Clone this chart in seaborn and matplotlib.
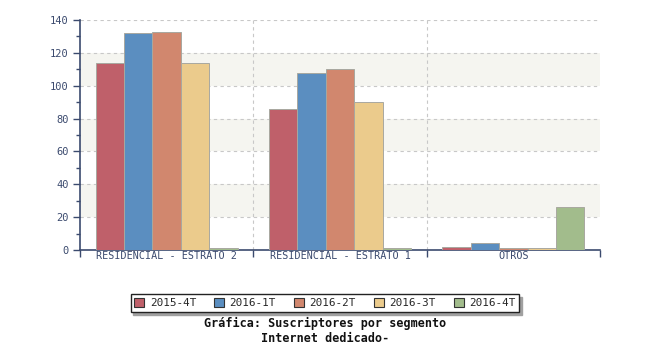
import matplotlib
matplotlib.use("Agg")
import matplotlib.pyplot as plt
import seaborn as sns
import pandas as pd
from matplotlib.ticker import MultipleLocator, FixedLocator

segments = ["RESIDENCIAL - ESTRATO 2", "RESIDENCIAL - ESTRATO 1", "OTROS"]
periods = ["2015-4T", "2016-1T", "2016-2T", "2016-3T", "2016-4T"]
v_2015_4t = [114, 86, 2]
v_2016_1t = [132, 108, 4]
v_2016_2t = [133, 110, 1]
v_2016_3t = [114, 90, 1]
v_2016_4t = [1, 1, 26]
colors = ["#BF606A", "#5B8EC0", "#D1876E", "#EBCB8C", "#A2BC8C"]

series = [v_2015_4t, v_2016_1t, v_2016_2t, v_2016_3t, v_2016_4t]
rows = []
for p, vals in zip(periods, series):
    for s, v in zip(segments, vals):
        rows.append({"segmento": s, "periodo": p, "suscriptores": v})
df = pd.DataFrame(rows)

sns.set_theme(style="white")
plt.rcParams["font.family"] = ["DejaVu Sans Mono"]
axis_col = "#3B4A6E"

fig = plt.figure(figsize=(6.5, 3.5), dpi=100)
ax = fig.add_axes([80 / 650, 1 - 250 / 350, 520 / 650, 230 / 350])

# alternating background bands
for lo in (20, 60, 100):
    ax.axhspan(lo, lo + 20, color="#F5F5F0", zorder=0, lw=0)

sns.barplot(data=df, x="segmento", y="suscriptores", hue="periodo",
            order=segments, hue_order=periods, palette=colors,
            width=0.82, saturation=1, edgecolor="#A8A8A0", linewidth=0.7,
            ax=ax, legend=True, zorder=3)

ax.set_ylim(0, 140)
ax.set_xlim(-0.5, 2.5)
ax.set_xlabel("")
ax.set_ylabel("")

ax.yaxis.set_major_locator(MultipleLocator(20))
ax.yaxis.set_minor_locator(MultipleLocator(10))
ax.xaxis.set_minor_locator(FixedLocator([-0.5, 0.5, 1.5, 2.5]))
ax.tick_params(axis="y", which="major", length=5, width=1, color=axis_col,
               labelcolor=axis_col, labelsize=7.5, pad=3, left=True)
ax.tick_params(axis="y", which="minor", length=3, width=1, color=axis_col, left=True)
ax.tick_params(axis="x", which="major", length=0, labelcolor=axis_col, labelsize=7.3, pad=1)
ax.tick_params(axis="x", which="minor", length=5, width=1, color=axis_col, bottom=True)

ax.grid(axis="y", which="major", color="#C8C8C8", linestyle=(0, (3, 3)), lw=0.8, zorder=1)
for xv in (0.5, 1.5):
    ax.axvline(xv, color="#C8C8C8", linestyle=(0, (3, 3)), lw=0.8, zorder=1)

for side in ("top", "right"):
    ax.spines[side].set_visible(False)
for side in ("left", "bottom"):
    ax.spines[side].set_color(axis_col)
    ax.spines[side].set_linewidth(1.2)

handles, labels = ax.get_legend_handles_labels()
ax.get_legend().remove()
for h in handles:
    h.set_edgecolor("#333333")
    h.set_linewidth(0.8)
leg = fig.legend(handles, labels, ncol=5, loc="center",
                 bbox_to_anchor=(325 / 650, 1 - 303 / 350),
                 frameon=True, fancybox=False,
                 shadow={"color": "#A0A0A0", "alpha": 1, "ox": 2, "oy": -2},
                 edgecolor="#222222", fontsize=7.9, handlelength=0.9, handleheight=0.9,
                 handletextpad=0.5, columnspacing=1.65, borderpad=0.35)
leg.get_frame().set_linewidth(1.0)

fig.text(325 / 650, 1 - 323.5 / 350, "Gráfica: Suscriptores por segmento",
         ha="center", va="center", fontsize=8.5, fontweight="bold", color="#111111")
fig.text(325 / 650, 1 - 338.5 / 350, "Internet dedicado-",
         ha="center", va="center", fontsize=8.5, fontweight="bold", color="#111111")

fig.savefig("out.png", dpi=100)
